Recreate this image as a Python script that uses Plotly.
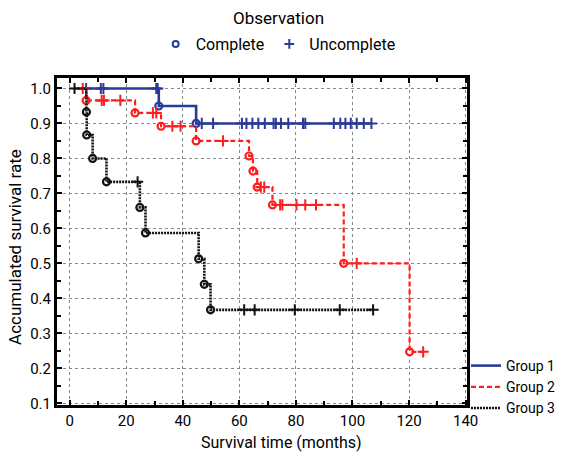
import numpy as np
import plotly.graph_objects as go

# ---- data ----
groups = ["Group 1", "Group 2", "Group 3"]

g1_event_times = [31.5, 44.7]
g1_surv = [0.95, 0.90]
g1_censor_times = [5.8, 11.0, 11.9, 30.6, 31.1, 46.7, 50.7, 60.9, 62.5, 64.6, 66.7,
                   69.0, 72.1, 72.9, 74.7, 77.3, 82.5, 83.3, 93.4, 95.7, 97.5, 99.4,
                   101.5, 104.0, 106.7]

g2_event_times = [5.8, 23.1, 32.3, 44.7, 63.4, 64.8, 66.3, 71.7, 96.9, 120.2]
g2_surv = [0.966, 0.930, 0.892, 0.850, 0.807, 0.764, 0.718, 0.667, 0.500, 0.247]
g2_censor_times = [4.6, 11.3, 12.1, 17.9, 29.4, 30.6, 36.3, 39.2, 54.2, 67.6, 68.8,
                   74.4, 75.2, 80.2, 83.3, 87.1, 101.5, 125.0]

g3_event_times = [5.9, 6.0, 8.1, 13.0, 24.8, 26.8, 45.6, 47.6, 49.8]
g3_surv = [0.933, 0.867, 0.800, 0.733, 0.660, 0.587, 0.513, 0.440, 0.367]
g3_censor_times = [1.7, 24.0, 61.7, 65.4, 79.6, 95.5, 107.3]

x_ticks = [0, 20, 40, 60, 80, 100, 120, 140]
y_ticks = [0.1, 0.2, 0.3, 0.4, 0.5, 0.6, 0.7, 0.8, 0.9, 1.0]

# ---- styles ----
colors = ["#2b3a98", "#ff1e1e", "#111111"]
dashes = ["solid", "5px,3px", "2px,1px"]
widths = [2.6, 2.2, 2.6]
FONT = "Roboto, Lato, sans-serif"

W, H = 573, 454
ML, MR, MT, MB = 57, 97, 78, 49
PW, PH = W - ML - MR, H - MT - MB

fig = go.Figure()

data = [(g1_event_times, g1_surv, g1_censor_times),
        (g2_event_times, g2_surv, g2_censor_times),
        (g3_event_times, g3_surv, g3_censor_times)]

for name, (ev, sv, cen), col, dsh, w in zip(groups, data, colors, dashes, widths):
    start = min(cen + ev)
    end = max(cen + ev)
    xs = [start] + ev + [end]
    ys = [1.0] + sv + [sv[-1]]
    fig.add_trace(go.Scatter(x=xs, y=ys, mode="lines", line=dict(color=col, dash=dsh, width=w, shape="hv"),
                             name=name, legend="legend2"))
    # event markers (complete)
    fig.add_trace(go.Scatter(x=ev, y=sv, mode="markers", showlegend=False,
                             marker=dict(symbol="circle-open", size=7, color=col, line=dict(width=2.2, color=col))))
    # censor markers (uncomplete)
    ev_arr = np.array(ev)
    sv_arr = np.array([1.0] + sv)
    cy = [sv_arr[np.searchsorted(ev_arr, t, side="right")] for t in cen]
    fig.add_trace(go.Scatter(x=cen, y=cy, mode="markers", showlegend=False,
                             marker=dict(symbol="cross-thin-open", size=8, color=col, line=dict(width=2, color=col))))

# observation legend entries
fig.add_trace(go.Scatter(x=[None], y=[None], mode="markers", name="Complete", legend="legend",
                         marker=dict(symbol="circle-open", size=6, color=colors[0], line=dict(width=2, color=colors[0]))))
fig.add_trace(go.Scatter(x=[None], y=[None], mode="markers", name="Uncomplete", legend="legend",
                         marker=dict(symbol="cross-thin-open", size=7, color=colors[0], line=dict(width=2, color=colors[0]))))

axis_common = dict(showline=True, linecolor="black", linewidth=3, mirror="ticks",
                   ticks="inside", ticklen=5, tickwidth=2, tickcolor="black",
                   showgrid=True, gridcolor="#7f8c8c", griddash="dot", gridwidth=1.2,
                   zeroline=False, automargin=False,
                   tickfont=dict(family=FONT, size=15, color="black"),
                   minor=dict(ticks="inside", ticklen=4, tickwidth=2, tickcolor="black", showgrid=False))

fig.update_xaxes(range=[-4.5, 140.5], tickvals=x_ticks, ticktext=[str(v) for v in x_ticks],
                 minor_dtick=10, **axis_common)
fig.update_yaxes(range=[0.095, 1.03], tickvals=y_ticks, ticktext=[f"{v:.1f}" for v in y_ticks],
                 minor_dtick=0.05, **axis_common)

def px_x(p):
    return (p - ML) / PW

def px_y(p):
    return 1 - (p - MT) / PH

fig.add_annotation(text="Survival time (months)", xref="paper", yref="paper",
                   x=px_x(286), y=px_y(442), xanchor="center", yanchor="middle", showarrow=False,
                   font=dict(family=FONT, size=16, color="black"))
fig.add_annotation(text="Accumulated survival rate", xref="paper", yref="paper",
                   x=px_x(14), y=px_y(247), xanchor="center", yanchor="middle", showarrow=False,
                   textangle=-90, font=dict(family=FONT, size=17, color="black"))
fig.add_annotation(text="Observation", xref="paper", yref="paper",
                   x=px_x(283), y=px_y(18), xanchor="center", yanchor="middle", showarrow=False,
                   font=dict(family=FONT, size=17, color="black"))

fig.update_layout(
    width=W, height=H,
    margin=dict(l=ML, r=MR, t=MT, b=MB),
    paper_bgcolor="white", plot_bgcolor="white",
    font=dict(family=FONT, color="black"),
    legend=dict(orientation="h", x=px_x(283), xanchor="center", y=px_y(44), yanchor="middle",
                font=dict(family=FONT, size=16, color="black"), bgcolor="rgba(0,0,0,0)",
                itemwidth=30, tracegroupgap=0),
    legend2=dict(x=px_x(572), xanchor="right", y=px_y(424), yanchor="bottom",
                 font=dict(family=FONT, size=14, color="black"), bgcolor="rgba(0,0,0,0)",
                 itemwidth=30, tracegroupgap=0),
)

fig.write_html("out.html", config={"displayModeBar": False},
               post_script="document.body.style.margin='0px';document.body.style.overflow='hidden';")
